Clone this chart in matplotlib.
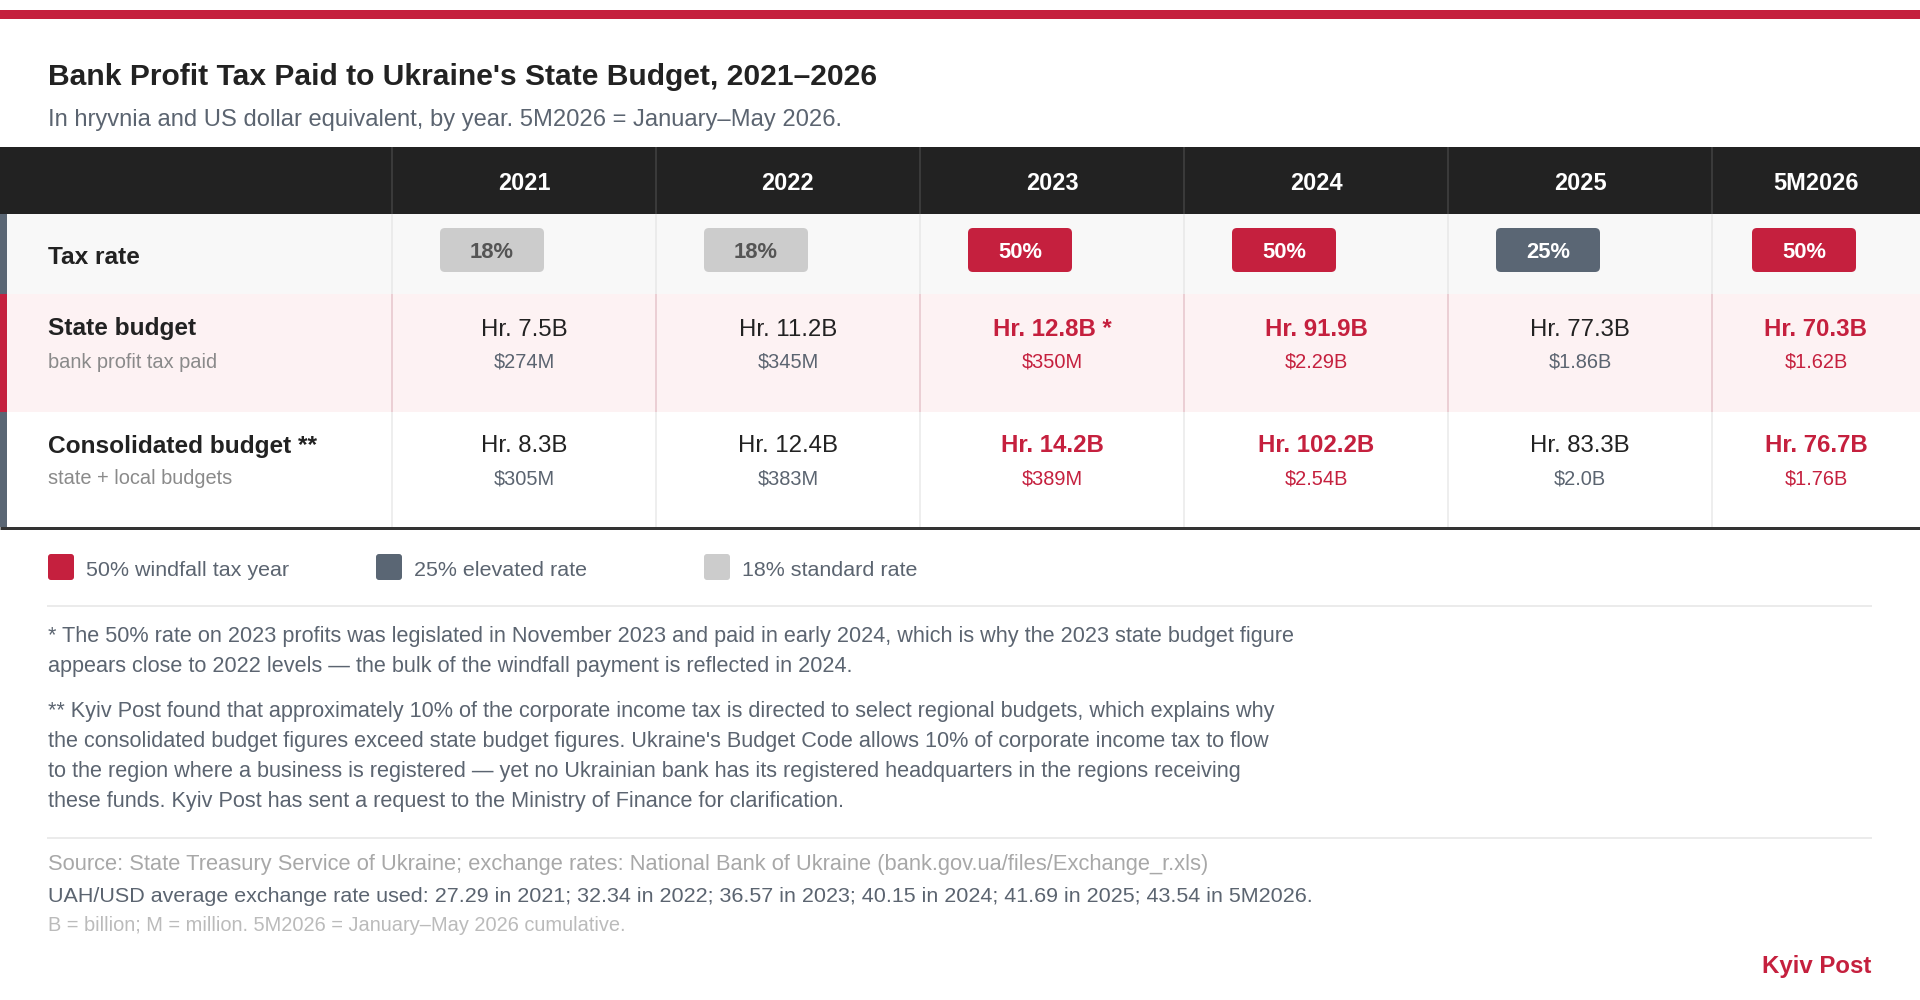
import matplotlib
matplotlib.use("Agg")
import matplotlib.pyplot as plt
from matplotlib.patches import Rectangle, FancyBboxPatch


# =========================
# DATA
# =========================
YEARS = ["2021", "2022", "2023", "2024", "2025", "5M2026"]
TAX_RATE = [18, 18, 50, 50, 25, 50]  # percent

STATE_UAH_B = [7.5, 11.2, 12.8, 91.9, 77.3, 70.3]
STATE_USD_M = [274, 345, 350, 2290, 1860, 1620]

CONS_UAH_B = [8.3, 12.4, 14.2, 102.2, 83.3, 76.7]
CONS_USD_M = [305, 383, 389, 2540, 2000, 1760]

ROW_LABELS = ["Tax rate", "State budget", "Consolidated budget **"]
ROW_SUBLABELS = ["", "bank profit tax paid", "state + local budgets"]

LEGEND_LABELS = ["50% windfall tax year", "25% elevated rate", "18% standard rate"]

TITLE = "Bank Profit Tax Paid to Ukraine's State Budget, 2021\u20132026"
SUBTITLE = "In hryvnia and US dollar equivalent, by year. 5M2026 = January\u2013May 2026."

NOTE_1 = [
    "* The 50% rate on 2023 profits was legislated in November 2023 and paid in early 2024, which is why the 2023 state budget figure",
    "appears close to 2022 levels \u2014 the bulk of the windfall payment is reflected in 2024.",
]
NOTE_2 = [
    "** Kyiv Post found that approximately 10% of the corporate income tax is directed to select regional budgets, which explains why",
    "the consolidated budget figures exceed state budget figures. Ukraine's Budget Code allows 10% of corporate income tax to flow",
    "to the region where a business is registered \u2014 yet no Ukrainian bank has its registered headquarters in the regions receiving",
    "these funds. Kyiv Post has sent a request to the Ministry of Finance for clarification.",
]
SOURCE = "Source: State Treasury Service of Ukraine; exchange rates: National Bank of Ukraine (bank.gov.ua/files/Exchange_r.xls)"
FX_NOTE = ("UAH/USD average exchange rate used: 27.29 in 2021; 32.34 in 2022; 36.57 in 2023; "
           "40.15 in 2024; 41.69 in 2025; 43.54 in 5M2026.")
UNITS_NOTE = "B = billion; M = million. 5M2026 = January\u2013May 2026 cumulative."


# =========================
# STYLE
# =========================
RED = "#c5203e"
SLATE = "#5a6674"
LIGHT = "#cccccc"
DARK = "#222222"
TEXT = "#222222"
MUTED = "#5b6470"
FONT = "Liberation Sans"

RATE_COLOURS = {50: RED, 25: SLATE, 18: LIGHT}
RATE_TEXT = {50: "white", 25: "white", 18: "#555555"}

PX = 0.72  # px -> pt at dpi 100

plt.rcParams["font.family"] = [FONT, "DejaVu Sans"]


def fmt_usd(m):
    if m >= 1000:
        s = f"{m / 1000:.2f}".rstrip("0")
        if s.endswith("."):
            s += "0"
        return f"${s}B"
    return f"${m:.0f}M"


def txt(ax, x, y, s, size, color=TEXT, weight="normal", ha="left", **kw):
    ax.text(x, y, s, fontsize=size * PX, color=color, fontweight=weight,
            ha=ha, va="baseline", **kw)


fig = plt.figure(figsize=(19.2, 10), dpi=100)
ax = fig.add_axes([0, 0, 1, 1])
ax.set_xlim(0, 1920)
ax.set_ylim(1000, 0)
ax.axis("off")

W = 1920
LEFT = 48

# top bar
ax.add_patch(Rectangle((0, 10), W, 9, color=RED, lw=0))

# title
txt(ax, LEFT, 85, TITLE, 30, color=TEXT, weight="bold")
txt(ax, LEFT, 126, SUBTITLE, 23.8, color=MUTED)

# column geometry
col_left = [392 + 264 * i for i in range(len(YEARS))]
col_right = col_left[1:] + [W]

# row bands
HEAD = (147, 214)
ROWS = [(214, 294), (294, 412), (412, 527)]
ROW_BG = ["#f8f8f8", "#fdf2f3", "#ffffff"]
ROW_ACCENT = [SLATE, RED, SLATE]
ROW_SEP = ["#ebebeb", "#ebcfd4", "#eeeeee"]

ax.add_patch(Rectangle((0, HEAD[0]), W, HEAD[1] - HEAD[0], color=DARK, lw=0))
for (y0, y1), bg, acc, sep in zip(ROWS, ROW_BG, ROW_ACCENT, ROW_SEP):
    ax.add_patch(Rectangle((0, y0), W, y1 - y0, color=bg, lw=0))
    ax.add_patch(Rectangle((0, y0), 7, y1 - y0, color=acc, lw=0))
    for xl in col_left:
        ax.plot([xl, xl], [y0, y1], color=sep, lw=2 * PX, solid_capstyle="butt")
for xl in col_left:
    ax.plot([xl, xl], HEAD, color="#3a3a3a", lw=2 * PX, solid_capstyle="butt")
ax.plot([0, W], [528, 528], color="#333333", lw=3 * PX, solid_capstyle="butt")

# header
for xl, xr, yr in zip(col_left, col_right, YEARS):
    txt(ax, (xl + xr) / 2, 190, yr, 23.5, color="white", weight="bold", ha="center")

# row labels
txt(ax, LEFT, 264, ROW_LABELS[0], 24.5, weight="bold")
txt(ax, LEFT, 335.5, ROW_LABELS[1], 24.5, weight="bold")
txt(ax, LEFT, 367.5, ROW_SUBLABELS[1], 20, color="#8a8a8a")
txt(ax, LEFT, 452.5, ROW_LABELS[2], 24.5, weight="bold")
txt(ax, LEFT, 484.5, ROW_SUBLABELS[2], 20, color="#8a8a8a")

# badges and values
for i, (xl, xr) in enumerate(zip(col_left, col_right)):
    rate = TAX_RATE[i]
    bx = xl + (48 if xr - xl > 250 else 40)
    ax.add_patch(FancyBboxPatch((bx, 228), 104, 44,
                                boxstyle="round,pad=0,rounding_size=5",
                                color=RATE_COLOURS[rate], lw=0))
    txt(ax, bx + 52, 258, f"{rate}%", 22, color=RATE_TEXT[rate],
        weight="bold", ha="center")

    hi = rate == 50
    vcol = RED if hi else TEXT
    scol = RED if hi else MUTED
    wt = "bold" if hi else "normal"
    cx = (xl + xr) / 2

    s_label = f"Hr. {STATE_UAH_B[i]:.1f}B" + (" *" if YEARS[i] == "2023" else "")
    txt(ax, cx, 335.5, s_label, 24, color=vcol, weight=wt, ha="center")
    txt(ax, cx, 367.5, fmt_usd(STATE_USD_M[i]), 20, color=scol, ha="center")

    txt(ax, cx, 452.5, f"Hr. {CONS_UAH_B[i]:.1f}B", 24, color=vcol, weight=wt, ha="center")
    txt(ax, cx, 484.5, fmt_usd(CONS_USD_M[i]), 20, color=scol, ha="center")

# legend
for lx, lab, rate in zip([48, 376, 704], LEGEND_LABELS, [50, 25, 18]):
    ax.add_patch(FancyBboxPatch((lx, 554), 26, 26,
                                boxstyle="round,pad=0,rounding_size=3",
                                color=RATE_COLOURS[rate], lw=0))
    txt(ax, lx + 38, 576, lab, 21.5, color=MUTED)

# footnotes
ax.plot([LEFT, 1871], [606, 606], color="#ebebeb", lw=2 * PX)
for k, line in enumerate(NOTE_1):
    txt(ax, LEFT, 642 + 30 * k, line, 21.7, color=MUTED)
for k, line in enumerate(NOTE_2):
    txt(ax, LEFT, 717 + 30 * k, line, 21.7, color=MUTED)
ax.plot([LEFT, 1871], [838, 838], color="#ebebeb", lw=2 * PX)

txt(ax, LEFT, 870, SOURCE, 21.9, color="#a8a8a8")
txt(ax, LEFT, 902, FX_NOTE, 21.5, color=MUTED)
txt(ax, LEFT, 931, UNITS_NOTE, 20, color="#bbbbbb")

txt(ax, 1871, 973, "Kyiv Post", 24, color=RED, weight="bold", ha="right")

fig.savefig("out.png", dpi=100, facecolor="white")
plt.close(fig)
